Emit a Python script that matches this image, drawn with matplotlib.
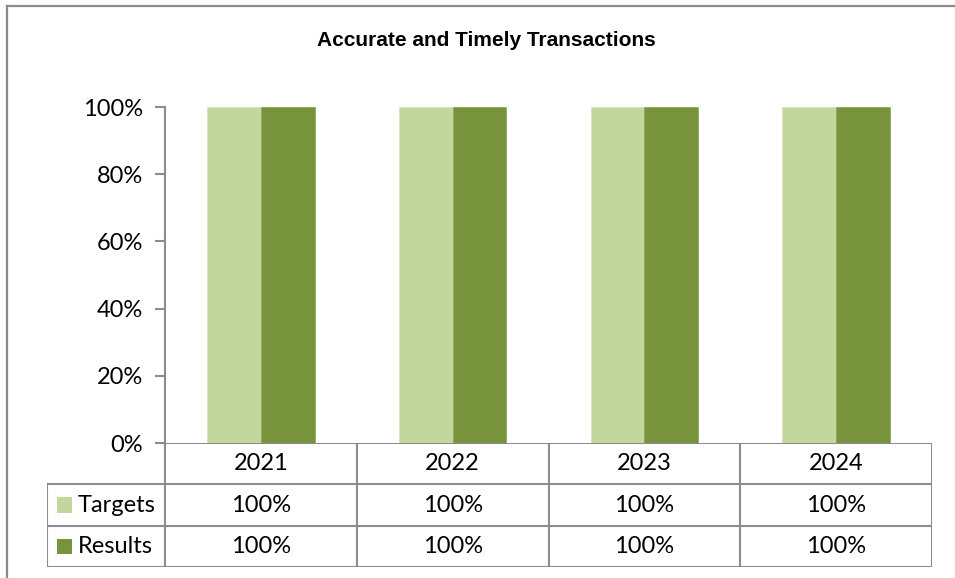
import matplotlib.pyplot as plt
from matplotlib.lines import Line2D
from matplotlib.patches import Rectangle
import numpy as np

years = ["2021", "2022", "2023", "2024"]
targets = [100, 100, 100, 100]
results = [100, 100, 100, 100]
series_names = ["Targets", "Results"]
colors = ["#C3D69B", "#77933C"]
yticks = [0, 20, 40, 60, 80, 100]

W, H = 955, 578
fig = plt.figure(figsize=(W / 100, H / 100), dpi=100)
plt.rcParams["font.family"] = ["Lato", "DejaVu Sans"]
grid_col = "#8C8C8C"
fs = 17


def fx(px):
    return px / W


def fy(py):
    return 1 - py / H


# outer frame (left + top edges visible)
fig.add_artist(Line2D([fx(7), fx(7)], [fy(6), 0], color="#8C8C8C", lw=1.6))
fig.add_artist(Line2D([fx(7), 1], [fy(6), fy(6)], color="#8C8C8C", lw=1.6))

fig.text(fx(486), fy(41), "Accurate and Timely Transactions", ha="center", va="center",
         fontsize=15, fontweight="bold", family="Liberation Sans")

# plot area
left, right, top, bottom = 165, 932, 107, 443
ax = fig.add_axes([fx(left), fy(bottom), fx(right - left), (bottom - top) / H])
x = np.arange(len(years))
bw = 0.28
ax.bar(x - bw / 2, targets, bw, color=colors[0], edgecolor="#D6E3BC", linewidth=0.6)
ax.bar(x + bw / 2, results, bw, color=colors[1], edgecolor="#8FAA55", linewidth=0.6)
ax.set_xlim(-0.5, len(years) - 0.5)
ax.set_ylim(0, 100)
ax.set_yticks(yticks)
ax.set_yticklabels([f"{v}%" for v in yticks], fontsize=fs)
ax.set_xticks([])
for s in ["top", "right", "bottom"]:
    ax.spines[s].set_visible(False)
ax.spines["left"].set_color(grid_col)
ax.spines["left"].set_linewidth(1.5)
ax.tick_params(axis="y", direction="out", length=7, width=1.5, color=grid_col, pad=9)

# data table below the axis
cat_px = (right - left) / len(years)
label_w = (165 - 47) / cat_px
tab_bottom = 567
tax = fig.add_axes([fx(47), fy(tab_bottom), fx(right - 47), (tab_bottom - bottom) / H])
tax.set_xlim(-0.5 - label_w, len(years) - 0.5)
tax.set_ylim(3, 0)
tax.axis("off")
lk = dict(color=grid_col, lw=1.5, solid_capstyle="projecting")
x0 = -0.5 - label_w
x1 = len(years) - 0.5
tax.plot([-0.5, x1], [0, 0], **lk)
for r in [1, 2, 3]:
    tax.plot([x0, x1], [r, r], **lk)
tax.plot([x0, x0], [1, 3], **lk)
for i in range(len(years) + 1):
    tax.plot([i - 0.5, i - 0.5], [0, 3], **lk)

for i, yr in enumerate(years):
    tax.text(i, 0.5, yr, ha="center", va="center", fontsize=fs)
rows = [targets, results]
sq_w = 15 / cat_px
sq_h = 15 / 41
for r, (name, vals, c) in enumerate(zip(series_names, rows, colors)):
    yy = 1.5 + r
    tax.add_patch(Rectangle((x0 + 10 / cat_px, yy - sq_h / 2), sq_w, sq_h, color=c, lw=0))
    tax.text(x0 + 31 / cat_px, yy, name, ha="left", va="center", fontsize=fs)
    for i, v in enumerate(vals):
        tax.text(i, yy, f"{v}%", ha="center", va="center", fontsize=fs)

fig.savefig("out.png", dpi=100)
